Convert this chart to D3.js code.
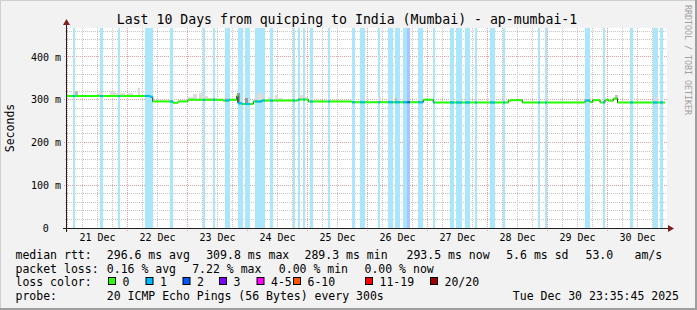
<!DOCTYPE html>
<html>
<head>
<meta charset="utf-8">
<script src="https://cdn.jsdelivr.net/npm/d3@7.9.0/dist/d3.min.js"></script>
<style>
  body { margin: 0; background: #f2f2f2; }
  svg { display: block; }
  text { font-family: "DejaVu Sans Mono", monospace; fill: #000; }
</style>
</head>
<body>
<div id="chart"></div>
<script>
// time frame of the graph
const startTime = new Date(2025, 11, 20, 23, 35, 45);
const endTime = new Date(2025, 11, 30, 23, 35, 45);
const baseTime = new Date(2025, 11, 21, 0, 0, 0); // hours below count from here

// median rtt, step values (hours since 21 Dec 00:00, ms)
const medianHours = [-0.4, 33.0, 34.1, 42.2, 44.2, 48.2, 62.2, 64.6, 67.7, 68.2, 69.8, 74.3, 77.7, 92.2, 96.3,
  113.8, 142.3, 146.3, 176.3, 177.4, 181.9, 207.0, 209.0, 210.1, 213.0, 215.0, 216.3, 218.3, 220.0, 239.0];
const medianMs = [309, 307, 296, 293, 296, 300, 298, 300, 309, 291.5, 290, 296, 298, 300.5, 296,
  294, 300, 293.6, 298, 299, 293.6, 298, 294.5, 299, 293.6, 300, 298, 302.6, 293.5, 293.5];

// packet loss periods (hours) and loss level (index into lossColors)
const lossStart = [2.2, 13.0, 20.2, 31.0, 41.0, 54.2, 58.2, 63.0, 68.2, 71.0, 75.0, 81.0, 90.2, 92.2, 94.2, 97.0,
  104.2, 113.8, 117.0, 124.2, 128.2, 131.0, 134.2, 135.8, 140.2, 146.2, 153.0, 155.4, 159.0, 163.0, 169.0,
  174.2, 188.2, 191.0, 207.0, 214.2, 225.0, 234.2, 237.0];
const lossEnd = [3.0, 14.2, 21.0, 34.2, 42.2, 55.0, 59.0, 65.0, 70.2, 73.0, 79.0, 82.2, 91.0, 93.0, 95.0, 98.2,
  105.0, 115.0, 119.0, 125.0, 130.2, 133.0, 135.8, 137.0, 142.2, 147.0, 154.6, 157.8, 161.0, 163.8, 171.0,
  175.0, 189.0, 191.8, 209.0, 215.0, 226.2, 236.2, 238.2];
const lossLevel = [1, 1, 1, 1, 1, 1, 1, 1, 1, 1, 1, 1, 1, 1, 1, 1, 1, 1, 1, 1, 1, 1, 1, 2, 1, 1, 1, 1, 1, 1, 1,
  1, 1, 1, 1, 1, 1, 1, 1];

// smoke (ping spread above the median)
const smokeStart = [3.0, 12.2, 17.0, 19.0, 24.2, 28.2, 47.8, 50.2, 52.6, 54.2, 56.2, 63.0, 67.8, 71.0, 75.8,
  80.2, 83.0, 84.6, 92.2, 94.2, 124.2, 131.0, 143.0, 219.0, 235.0];
const smokeEnd = [4.2, 14.2, 19.0, 23.0, 26.2, 29.0, 50.2, 51.8, 54.2, 56.2, 60.2, 64.2, 69.0, 72.2, 78.2,
  81.4, 84.2, 86.2, 94.2, 96.2, 125.4, 131.8, 143.8, 220.2, 236.2];
const smokeTop = [320, 316, 321, 316, 315, 328, 306, 313, 315, 309, 305, 305, 316, 303, 315,
  307, 310, 305, 310, 306, 306, 303, 303, 312, 306];
const smokeShade = [1, 0, 0, 0, 0, 0, 0, 0, 0, 0, 0, 1, 2, 2, 0, 0, 0, 0, 0, 0, 0, 1, 0, 1, 0];

const yTicks = [0, 100, 200, 300, 400];
const lossLabels = ['0', '1', '2', '3', '4-5', '6-10', '11-19', '20/20'];
const lossColors = ['#26ff00', '#00b8ff', '#0059ff', '#7e00ff', '#ff00ff', '#ff5500', '#ff0000', '#a10000'];
const lossBand = ['#ffffff', '#aae6fc', '#aac4ff'];
const smokeColors = ['#dcdcdc', '#bdbdbd', '#9a9a9a'];

const rttStats = ['296.6 ms avg', '309.8 ms max', '289.3 ms min', '293.5 ms now', '5.6 ms sd', '53.0', 'am/s'];
const lossStats = ['0.16 % avg', '7.22 % max', '0.00 % min', '0.00 % now'];
const probeText = '20 ICMP Echo Pings (56 Bytes) every 300s';
const stampText = 'Tue Dec 30 23:35:45 2025';
const title = 'Last 10 Days from quicping to India (Mumbai) - ap-mumbai-1';

const hour = (h) => new Date(+baseTime + h * 3600e3);

const width = 697, height = 310;
const plot = { left: 67, right: 667, top: 28, bottom: 228 };

const svg = d3.select('#chart').append('svg')
  .attr('width', width).attr('height', height);

// frame
svg.append('rect').attr('width', width).attr('height', height).attr('fill', '#f2f2f2');
svg.append('path').attr('d', `M0,${height} V0 H${width}`).attr('stroke', '#cfcfcf').attr('stroke-width', 2).attr('fill', 'none');
svg.append('path').attr('d', `M0,${height - 1} H${width - 1} V0`).attr('stroke', '#9e9e9e').attr('stroke-width', 2).attr('fill', 'none');

svg.append('rect')
  .attr('x', plot.left).attr('y', plot.top)
  .attr('width', plot.right - plot.left).attr('height', plot.bottom - plot.top)
  .attr('fill', '#fff');

const x = d3.scaleTime().domain([startTime, endTime]).range([66.5, 666.5]);
const y = d3.scaleLinear().domain([0, 467.8]).range([plot.bottom, plot.top]);
const snap = (v) => Math.floor(v) + 0.5;

// grid
const grid = svg.append('g');
const minorY = d3.range(20, 467, 20).filter((d) => d % 100 !== 0);
const majorY = yTicks.filter((d) => d > 0);
const days = d3.timeDay.range(startTime, endTime);
const sixHours = d3.timeHour.every(6).range(startTime, endTime).filter((d) => d.getHours() !== 0);

grid.selectAll('.gy').data(minorY).join('line')
  .attr('x1', plot.left - 2).attr('x2', plot.right)
  .attr('y1', (d) => snap(y(d))).attr('y2', (d) => snap(y(d)))
  .attr('stroke', '#c4c4c4').attr('stroke-dasharray', '1,1');
grid.selectAll('.gx').data(sixHours).join('line')
  .attr('x1', (d) => snap(x(d))).attr('x2', (d) => snap(x(d)))
  .attr('y1', plot.top).attr('y2', plot.bottom + 2)
  .attr('stroke', '#c4c4c4').attr('stroke-dasharray', '1,1');
grid.selectAll('.my').data(majorY).join('line')
  .attr('x1', plot.left - 3).attr('x2', plot.right)
  .attr('y1', (d) => snap(y(d))).attr('y2', (d) => snap(y(d)))
  .attr('stroke', '#eaa0a0').attr('stroke-dasharray', '1,1');
grid.selectAll('.mx').data(days).join('line')
  .attr('x1', (d) => snap(x(d))).attr('x2', (d) => snap(x(d)))
  .attr('y1', plot.top).attr('y2', plot.bottom + 3)
  .attr('stroke', '#eaa0a0').attr('stroke-dasharray', '1,1');

// loss bands
const losses = lossStart.map((s, i) => ({ s, e: lossEnd[i], level: lossLevel[i] }));
svg.append('g').selectAll('rect').data(losses).join('rect')
  .attr('x', (d) => Math.round(x(hour(d.s))))
  .attr('width', (d) => Math.round(x(hour(d.e))) - Math.round(x(hour(d.s))))
  .attr('y', plot.top).attr('height', plot.bottom - plot.top)
  .attr('fill', (d) => lossBand[d.level]);

// smoke
const medianAt = (h) => medianMs[Math.max(0, d3.bisectRight(medianHours, h) - 1)];
const smoke = smokeStart.map((s, i) => ({ s, e: smokeEnd[i], top: smokeTop[i], shade: smokeShade[i] }));
svg.append('g').selectAll('rect').data(smoke).join('rect')
  .attr('x', (d) => Math.round(x(hour(d.s))))
  .attr('width', (d) => Math.round(x(hour(d.e))) - Math.round(x(hour(d.s))))
  .attr('y', (d) => Math.round(y(d.top)))
  .attr('height', (d) => Math.round(y(medianAt((d.s + d.e) / 2))) - Math.round(y(d.top)))
  .attr('fill', (d) => smokeColors[d.shade]);

// median: thin dark step line, then coloured segments on top
const pts = medianHours.map((h, i) => [x(hour(h)), y(medianMs[i])]);
svg.append('path')
  .attr('d', d3.line().curve(d3.curveStepAfter)(pts))
  .attr('fill', 'none').attr('stroke', '#202020').attr('stroke-width', 1);

const segs = pts.slice(0, -1).map((p, i) => ({ x1: p[0], x2: pts[i + 1][0], y: p[1] }));
const defs = svg.append('defs');
[1, 2].forEach((lvl) => {
  defs.append('clipPath').attr('id', 'loss' + lvl)
    .selectAll('rect').data(losses.filter((d) => d.level === lvl)).join('rect')
    .attr('x', (d) => Math.round(x(hour(d.s))))
    .attr('width', (d) => Math.round(x(hour(d.e))) - Math.round(x(hour(d.s))))
    .attr('y', 0).attr('height', height);
});
const drawSegs = (color, clip) => {
  const g = svg.append('g');
  if (clip) g.attr('clip-path', `url(#${clip})`);
  g.selectAll('line').data(segs).join('line')
    .attr('x1', (d) => d.x1).attr('x2', (d) => d.x2)
    .attr('y1', (d) => d.y).attr('y2', (d) => d.y)
    .attr('stroke', color).attr('stroke-width', 2);
};
drawSegs(lossColors[0], null);
drawSegs(lossColors[1], 'loss1');
drawSegs(lossColors[2], 'loss2');

// axes
svg.append('line').attr('x1', 63).attr('x2', 669).attr('y1', 228.5).attr('y2', 228.5).attr('stroke', '#1f1f1f');
svg.append('line').attr('x1', 66.5).attr('x2', 66.5).attr('y1', 232).attr('y2', 25).attr('stroke', '#1f1f1f');
svg.append('path').attr('d', 'M668,225 L674,228.5 L668,232 Z').attr('fill', '#7f1f1f');
svg.append('path').attr('d', 'M63,25 L66.5,19 L70,25 Z').attr('fill', '#7f1f1f');

// tick labels
svg.append('g').selectAll('text').data(yTicks).join('text')
  .attr('x', (d) => d === 0 ? 61 - 12.2 : 61)
  .attr('y', (d) => y(d) + 3.6)
  .attr('text-anchor', 'end').attr('font-size', '10px')
  .text((d) => d === 0 ? '0' : d + ' m');

svg.append('g').selectAll('text').data(days).join('text')
  .attr('x', (d) => x(d3.timeHour.offset(d, 12)))
  .attr('y', 240.7)
  .attr('text-anchor', 'middle').attr('font-size', '10px')
  .text((d) => d3.timeFormat('%d %b')(d));

svg.append('text')
  .attr('transform', 'translate(14,128) rotate(-90)')
  .attr('text-anchor', 'middle').attr('font-size', '11.5px')
  .text('Seconds');

svg.append('text')
  .attr('x', 347).attr('y', 24)
  .attr('text-anchor', 'middle').attr('font-size', '13.2px')
  .text(title);

svg.append('text')
  .attr('transform', 'translate(684.5,5) rotate(90)')
  .attr('font-size', '8.3px').style('fill', '#a0a0a0')
  .text('RRDTOOL / TOBI OETIKER');

// legend
const legend = svg.append('g').attr('font-size', '11.5px').attr('xml:space', 'preserve');
const row = (yy, items) => items.forEach(([t, xx]) =>
  legend.append('text').attr('x', xx - 0.5).attr('y', yy).text(t));

row(258.5, [['median rtt:', 16], [rttStats[0], 107.3], [rttStats[1], 206.7], [rttStats[2], 305],
  [rttStats[3], 407], [rttStats[4], 506.7], [rttStats[5], 586], [rttStats[6], 635]]);
row(272.5, [['packet loss:', 16], [lossStats[0], 107.3], [lossStats[1], 192.7], [lossStats[2], 279.3],
  [lossStats[3], 365]]);
row(286.3, [['loss color:', 16]]);
row(300.3, [['probe:', 16], [probeText, 107.3], [stampText, 513.3]]);

const boxX = [108, 145.5, 182.5, 219, 256.5, 293, 365, 430];
lossLabels.forEach((lab, i) => {
  legend.append('rect')
    .attr('x', boxX[i] + 0.5).attr('y', 277.5).attr('width', 7).attr('height', 7)
    .attr('fill', lossColors[i]).attr('stroke', '#000');
  legend.append('text').attr('x', boxX[i] + 14.5).attr('y', 286.3).text(lab);
});
</script>
</body>
</html>
